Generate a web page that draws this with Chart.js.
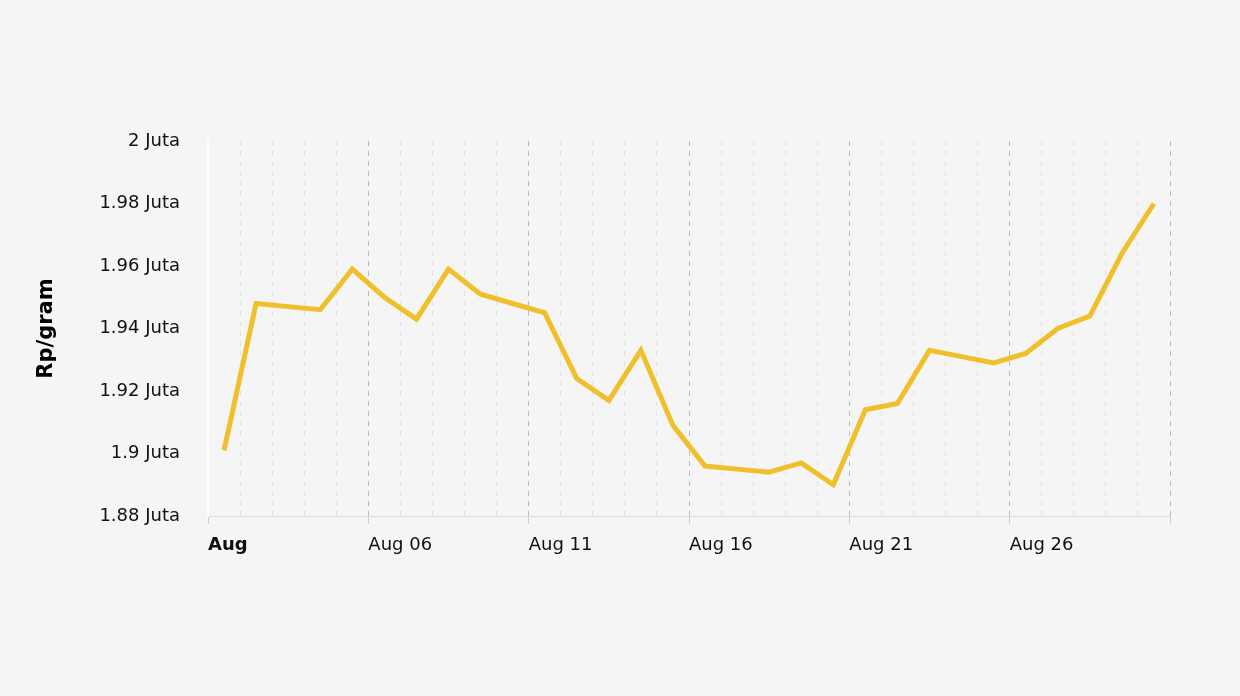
<!DOCTYPE html><html><head><script src="https://cdn.jsdelivr.net/npm/chart.js@4"></script>
<style>body{margin:0;background:#f5f5f5}#w{width:1240px;height:696px}</style></head><body><div id="w"><canvas id="c"></canvas></div>
<script>
const days=[0.5,1.5,2.5,3.5,4.5,5.5,6.5,7.5,8.5,9.5,10.5,11.5,12.5,13.5,14.5,15.5,16.5,17.5,18.5,19.5,20.5,21.5,22.5,23.5,24.5,25.5,26.5,27.5,28.5,29.5];
const prices=[1.901,1.948,1.947,1.946,1.959,1.950,1.943,1.959,1.951,1.948,1.945,1.924,1.917,1.933,1.909,1.896,1.895,1.894,1.897,1.890,1.914,1.916,1.933,1.931,1.929,1.932,1.940,1.944,1.964,1.980];
const majorLabels={0:"Aug",5:"Aug 06",10:"Aug 11",15:"Aug 16",20:"Aug 21",25:"Aug 26"};
new Chart(document.getElementById('c'),{type:'line',
data:{datasets:[{data:days.map((d,i)=>({x:d,y:prices[i]})),borderColor:'#f0c02c',borderWidth:5,pointRadius:0,tension:0}]},
options:{responsive:true,maintainAspectRatio:false,animation:false,
layout:{padding:{top:141,right:70,bottom:130,left:30}},
plugins:{legend:{display:false},tooltip:{enabled:false}},
scales:{
x:{type:'linear',min:0,max:30,afterFit:s=>{s.height=50},
 afterBuildTicks:s=>{s.ticks=[];for(let i=0;i<=30;i++)s.ticks.push({value:i});},
 ticks:{autoSkip:false,maxRotation:0,align:'start',color:'#111',padding:11,font:t=>({family:'DejaVu Sans',size:18,weight:t.tick&&t.tick.value===0?'bold':'normal'}),
  callback:v=>majorLabels[v]!==undefined?majorLabels[v]:''},
 border:{color:'#ddd',dash:[5,5]},
 grid:{color:c=>c.tick&&(c.tick.value%5===0)?'#bbb':'#e2e2e2',lineWidth:1,tickLength:8,drawTicks:true,tickColor:c=>c.tick&&(c.tick.value%5===0||c.tick.value===30)?'#ccc':'transparent'}},
y:{min:1.88,max:2.0,afterFit:s=>{s.width=178},
 ticks:{stepSize:0.02,color:'#111',padding:20,font:{family:'DejaVu Sans',size:18},callback:v=>(Math.round(v*100)/100)+' Juta'},
 border:{color:'#fff',width:2},grid:{display:false},
 title:{display:true,text:'Rp/gram',color:'#000',font:{family:'DejaVu Sans',size:21,weight:'bold'}}}
}}});
</script></body></html>
